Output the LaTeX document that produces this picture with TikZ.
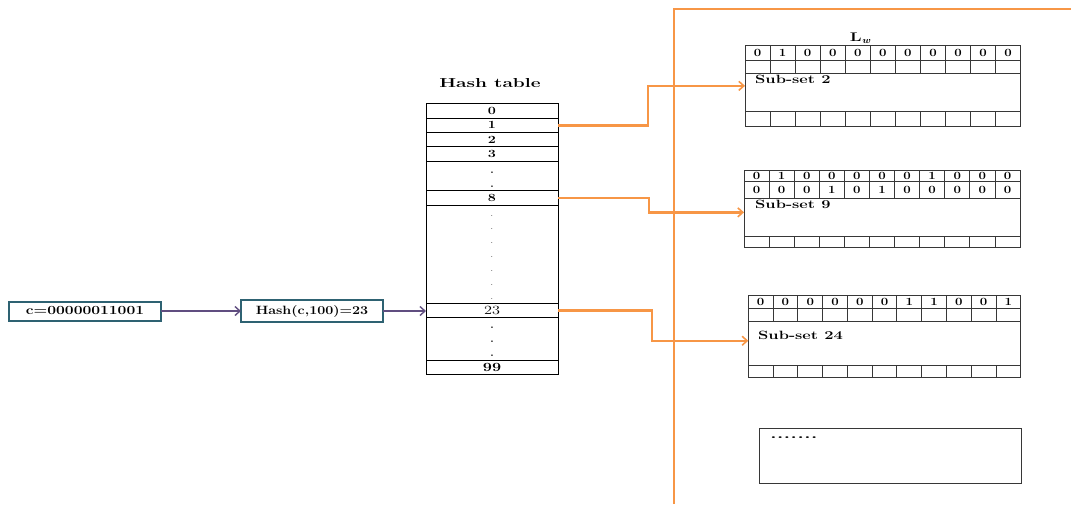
\documentclass[tikz,border=0pt]{standalone}
\usepackage{graphicx}
\usetikzlibrary{arrows.meta,calc}

\definecolor{linkorange}{RGB}{247,150,70}
\definecolor{flowpurple}{RGB}{96,78,128}
\definecolor{boxteal}{RGB}{46,98,114}
\definecolor{gridgray}{RGB}{55,55,55}

% horizontally widened text
\newcommand\widen[2]{\scalebox{#1}[1]{#2}}

\tikzset{
  inputbox/.style={draw=boxteal, line width=2pt, inner sep=0pt, outer sep=0pt,
    font=\fontsize{12.4}{14}\selectfont\bfseries},
  flow/.style={draw=flowpurple, line width=1.8pt, -{Straight Barb[length=5pt,width=9pt,line width=1.4pt]}},
  link/.style={draw=linkorange, line width=2.4pt, -{Straight Barb[length=5pt,width=9pt,line width=1.6pt]}},
  wall/.style={draw=linkorange, line width=2.4pt},
  slot/.style={draw=black, line width=0.9pt, inner sep=0pt, outer sep=0pt,
    minimum width=132pt, font=\fontsize{11}{12}\selectfont\bfseries},
  slotdot/.style={inner sep=0pt, anchor=base, font=\fontsize{11}{12}\selectfont\bfseries},
  thindot/.style={inner sep=0pt, anchor=base, font=\fontsize{9}{12}\selectfont},
  frame/.style={draw=gridgray, line width=1pt, inner sep=0pt, outer sep=0pt},
  gridline/.style={draw=gridgray, line width=0.8pt},
  celldigit/.style={inner sep=0pt, font=\fontsize{11}{12}\selectfont\bfseries},
  subsettitle/.style={inner sep=0pt, anchor=base west, font=\fontsize{12}{14}\selectfont\bfseries},
}

% eleven equal column dividers between x0 and x1, from ya down to yb
\newcommand\coldividers[4]{%
  \foreach \k in {1,...,10}
    \draw[gridline] ({#1+\k*(#2-#1)/11},#3) -- ({#1+\k*(#2-#1)/11},#4);}

\begin{document}
\begin{tikzpicture}[x=1pt,y=-1pt]
\useasboundingbox (0,0) rectangle (1071,504);

% ---- input and hash function ----
\node[inputbox, minimum width=152pt, minimum height=19pt] (cval) at (85,311) {\widen{1.26}{c=00000011001}};
\node[inputbox, minimum width=142pt, minimum height=22pt, font=\fontsize{12}{14}\selectfont\bfseries]
  (hfun) at (312,311) {\widen{1.19}{Hash(c,100)=23}};

% ---- hash table ----
\node[inner sep=0pt, anchor=base, font=\fontsize{13}{15}\selectfont\bfseries] (htitle) at (490,87.5) {\widen{1.47}{Hash table}};

\node[slot, minimum height=15pt]   (h0)  at (492,110.8) {\widen{1.3}{0}};
\node[slot, minimum height=14pt]   (h1)  at (492,125.3) {\widen{1.3}{1}};
\node[slot, minimum height=14.4pt] (h2)  at (492,139.5) {\widen{1.3}{2}};
\node[slot, minimum height=15pt]   (h3)  at (492,154.2) {\widen{1.3}{3}};
\node[slot, minimum height=29pt]   (hA)  at (492,176.2) {};
\node[slot, minimum height=14.3pt] (h8)  at (492,197.8) {\widen{1.3}{8}};
\node[slot, minimum height=98.3pt] (hB)  at (492,254.2) {};
\node[slot, minimum height=14pt, font=\fontsize{12.5}{13}\selectfont] (h23) at (492,310.3) {\widen{1.3}{23}};
\node[slot, minimum height=42.7pt] (hC)  at (492,338.7) {};
\node[slot, minimum height=14pt, font=\fontsize{12.5}{13}\selectfont\bfseries] (h99) at (492,367) {\widen{1.3}{99}};

\foreach \y in {172,186} \node[slotdot] (da\y) at (492,\y+1.3) {.};
\foreach \y in {215,228,242,256,270,284,298} \node[thindot] (db\y) at (492,\y+1) {.};
\foreach \y in {327,341,355} \node[slotdot] (dc\y) at (492,\y+1.3) {.};

% ---- flow arrows ----
\draw[flow] (cval.east) -- (hfun.west);
\draw[flow] (hfun.east) -- (h23.west |- hfun.east);

% ---- partition wall of L_w ----
\coordinate (wtop) at (674,9);
\coordinate (wbot) at (674,504);
\coordinate (wend) at (1071,9);
\draw[wall] (wbot) -- (wtop) -- (wend);

\node[inner sep=0pt, anchor=base, font=\fontsize{12.5}{14}\selectfont\bfseries] (lw) at (860,41)
  {\widen{1.4}{L}\raisebox{-2.5pt}{\fontsize{9}{10}\selectfont\itshape\widen{1.2}{w}}};

% ---- sub-set 2 ----
\node[frame, minimum width=275.7pt, minimum height=81.7pt] (s2) at (882.85,85.85) {};
\foreach \yy in {60,73.3,111} \draw[gridline] (745,\yy) -- (1020.7,\yy);
\coldividers{745}{1020.7}{45}{73.3}
\coldividers{745}{1020.7}{111}{126.7}
\foreach \d [count=\k] in {0,1,0,0,0,0,0,0,0,0,0}
  \node[celldigit] (s2a\k) at ({745+(\k-0.5)*275.7/11},52.5) {\widen{1.2}{\d}};
\node[subsettitle] (s2t) at (755,83.5) {\widen{1.37}{Sub-set 2}};

% ---- sub-set 9 ----
\node[frame, minimum width=276pt, minimum height=77.3pt] (s9) at (882,208.65) {};
\foreach \yy in {181.7,198.3,236} \draw[gridline] (744,\yy) -- (1020,\yy);
\coldividers{744}{1020}{170}{198.3}
\coldividers{744}{1020}{236}{247.3}
\foreach \d [count=\k] in {0,1,0,0,0,0,0,1,0,0,0}
  \node[celldigit] (s9a\k) at ({744+(\k-0.5)*276/11},175.9) {\widen{1.2}{\d}};
\foreach \d [count=\k] in {0,0,0,1,0,1,0,0,0,0,0}
  \node[celldigit] (s9b\k) at ({744+(\k-0.5)*276/11},190) {\widen{1.2}{\d}};
\node[subsettitle] (s9t) at (755,208.3) {\widen{1.37}{Sub-set 9}};

% ---- sub-set 24 ----
\node[frame, minimum width=272.4pt, minimum height=82.3pt] (s24) at (884.5,336.15) {};
\foreach \yy in {308.3,321.7,365} \draw[gridline] (748.3,\yy) -- (1020.7,\yy);
\coldividers{748.3}{1020.7}{295}{321.7}
\coldividers{748.3}{1020.7}{365}{377.3}
\foreach \d [count=\k] in {0,0,0,0,0,0,1,1,0,0,1}
  \node[celldigit] (s24a\k) at ({748.3+(\k-0.5)*272.4/11},301.7) {\widen{1.2}{\d}};
\node[subsettitle] (s24t) at (758,339.3) {\widen{1.37}{Sub-set 24}};

% ---- remaining sub-sets ----
\node[frame, line width=1.3pt, minimum width=262.4pt, minimum height=55pt] (smore) at (890.5,455.8) {};
\node[subsettitle] (smoret) at (770,438.5) {\widen{1.8}{.......}};

% ---- links from hash slots to sub-sets ----
\draw[link] (h1.east) -- ++(90,0) |- (s2.west);
\draw[link] (h8.east) -- ++(91,0) |- ([yshift=-3.7pt]s9.west);
\draw[link] (h23.east) -- ++(94,0) |- ([yshift=-4.6pt]s24.west);
\end{tikzpicture}
\end{document}
